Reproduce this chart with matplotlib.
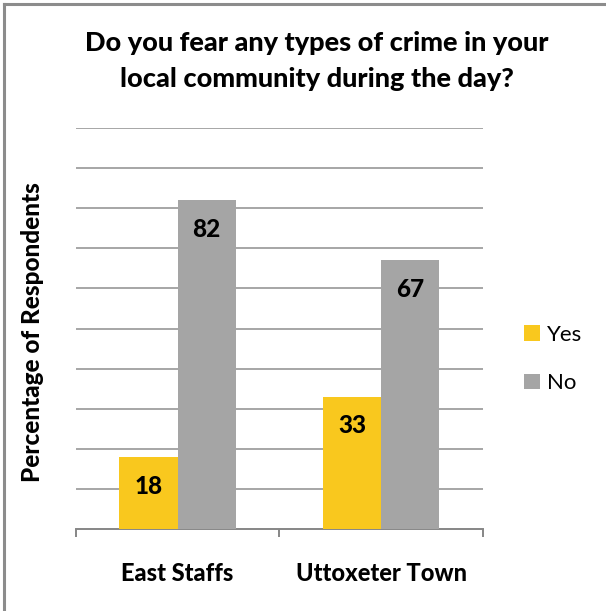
import matplotlib
matplotlib.use("Agg")
import matplotlib.pyplot as plt
from matplotlib.lines import Line2D
import numpy as np

categories = ["East Staffs", "Uttoxeter Town"]
series_names = ["Yes", "No"]
yes_values = [18, 33]
no_values = [82, 67]

title = "Do you fear any types of crime in your\nlocal community during the day?"
y_label = "Percentage of Respondents"

colors = {"Yes": "#F9C81E", "No": "#A5A5A5"}

plt.rcParams["font.family"] = ["Lato", "DejaVu Sans"]
BOLD = "black"

W, H, DPI = 606, 611, 100
fig = plt.figure(figsize=(W / DPI, H / DPI), dpi=DPI)
fig.patch.set_facecolor("white")

# plot area in pixel terms
left, right, top, bottom = 75.7, 483, 128, 529
ax = fig.add_axes([left / W, 1 - bottom / H, (right - left) / W, (bottom - top) / H])

x = np.arange(len(categories))
bw = 0.285
bars_yes = ax.bar(x - bw / 2, yes_values, bw, color=colors["Yes"], label="Yes", zorder=3)
bars_no = ax.bar(x + bw / 2, no_values, bw, color=colors["No"], label="No", zorder=3)

for bars, vals in ((bars_yes, yes_values), (bars_no, no_values)):
    for b, v in zip(bars, vals):
        ax.text(b.get_x() + b.get_width() / 2, v - 7.3, f"{v}", ha="center", va="center",
                fontsize=17.5, fontweight=BOLD, color="black", zorder=4)

ax.set_xlim(-0.5, len(categories) - 0.5)
ax.set_ylim(0, 100)

# horizontal gridlines every 10 units
for gy in range(10, 101, 10):
    ax.axhline(gy, color="#A6A6A6", lw=1.4, zorder=1)

for s in ("top", "right", "left"):
    ax.spines[s].set_visible(False)
ax.spines["bottom"].set_color("#868686")
ax.spines["bottom"].set_linewidth(1.4)

ax.set_yticks([])
ax.set_xticks(np.arange(-0.5, len(categories), 1.0))
ax.set_xticklabels([])
ax.tick_params(axis="x", direction="out", length=6, width=1.4, color="#868686")

for xi, name in zip(x, categories):
    ax.text(xi, -11, name, ha="center", va="center", fontsize=17, fontweight=BOLD,
            transform=ax.transData, clip_on=False)

fig.text(317 / W, 1 - 61 / H, title, ha="center", va="center", fontsize=19.5,
         fontweight=BOLD, linespacing=1.62)

fig.text(33 / W, 1 - 332 / H, y_label, ha="center", va="center", rotation=90,
         fontsize=17.5, fontweight=BOLD)

ax.legend(handles=[bars_yes, bars_no], labels=series_names,
          loc="upper left", bbox_to_anchor=(524 / W, 1 - 325 / H),
          bbox_transform=fig.transFigure, frameon=False, fontsize=16,
          handlelength=0.7, handleheight=0.7, handletextpad=0.35,
          labelspacing=1.27, borderpad=0, borderaxespad=0)

# outer frame along the top and left edges
fig.add_artist(Line2D([4 / W, 4 / W], [0, 1 - 4 / H], transform=fig.transFigure,
                      color="#8C8C8C", lw=2.2))
fig.add_artist(Line2D([4 / W, 1], [1 - 4 / H, 1 - 4 / H], transform=fig.transFigure,
                      color="#8C8C8C", lw=2.2))

fig.savefig("out.png", dpi=DPI, facecolor="white")
